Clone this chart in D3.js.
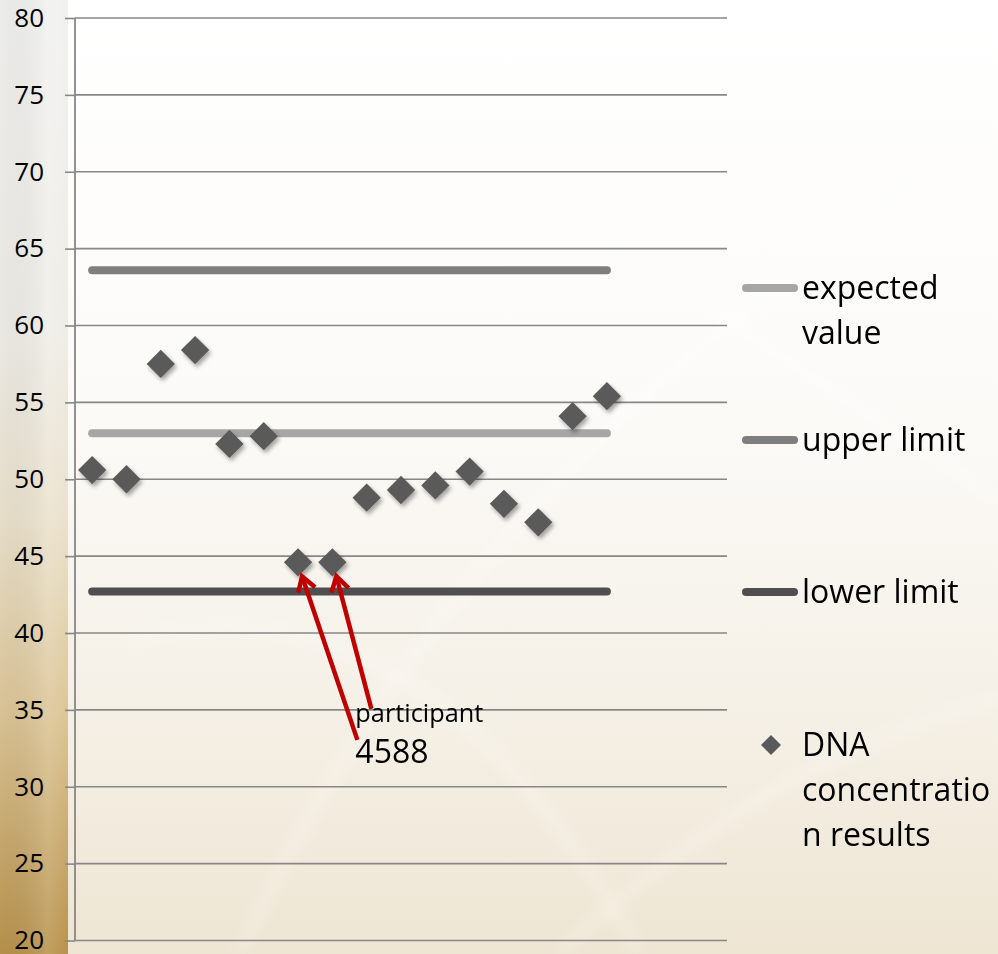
<!DOCTYPE html>
<html>
<head>
<meta charset="utf-8">
<script src="https://cdn.jsdelivr.net/npm/d3@7"></script>
<style>
  html, body { margin: 0; padding: 0; background: #fff; }
  svg { display: block; font-family: "Open Sans", "Noto Sans", sans-serif; }
</style>
</head>
<body>
<svg id="chart" width="998" height="954"></svg>
<script>
// Sample positions on the category axis (19 slots, 16 reported results)
const categories = [1, 2, 3, 4, 5, 6, 7, 8, 9, 10, 11, 12, 13, 14, 15, 16, 17, 18, 19];
const participants = [1, 2, 3, 4, 5, 6, 7, 8, 9, 10, 11, 12, 13, 14, 15, 16];
// DNA concentration results per participant
const dnaValues = [50.6, 50.0, 57.5, 58.4, 52.3, 52.8, 44.6, 44.6, 48.8, 49.3, 49.6, 50.5, 48.4, 47.2, 54.1, 55.4];
// Reference levels
const expectedValue = 53.0;
const upperLimit = 63.6;
const lowerLimit = 42.7;
// Value axis ticks
const yTicks = [20, 25, 30, 35, 40, 45, 50, 55, 60, 65, 70, 75, 80];
// Participant flagged by the annotation
const flaggedIndex = [6, 7];
const flaggedLabel = ["participant", "4588"];

const svg = d3.select("#chart");
const W = 998, H = 954;
const plot = { left: 75, right: 727, top: 18, bottom: 940.5 };

// ---- background ----
const defs = svg.append("defs");
const bg = defs.append("linearGradient").attr("id", "bgGrad").attr("x1", 0).attr("y1", 0).attr("x2", 0).attr("y2", 1);
bg.append("stop").attr("offset", "0%").attr("stop-color", "#ffffff");
bg.append("stop").attr("offset", "45%").attr("stop-color", "#fbfaf7");
bg.append("stop").attr("offset", "75%").attr("stop-color", "#f5f0e6");
bg.append("stop").attr("offset", "100%").attr("stop-color", "#eee5d3");

const strip = defs.append("linearGradient").attr("id", "stripGrad").attr("x1", 0).attr("y1", 0).attr("x2", 0).attr("y2", 1);
strip.append("stop").attr("offset", "0%").attr("stop-color", "#f1f1ef");
strip.append("stop").attr("offset", "35%").attr("stop-color", "#efede7");
strip.append("stop").attr("offset", "55%").attr("stop-color", "#eae1cc");
strip.append("stop").attr("offset", "75%").attr("stop-color", "#dcc596");
strip.append("stop").attr("offset", "100%").attr("stop-color", "#b8924c");

const stripShade = defs.append("linearGradient").attr("id", "stripShade").attr("x1", 0).attr("y1", 0).attr("x2", 1).attr("y2", 0);
stripShade.append("stop").attr("offset", "0%").attr("stop-color", "#000").attr("stop-opacity", 0.02);
stripShade.append("stop").attr("offset", "70%").attr("stop-color", "#fff").attr("stop-opacity", 0.12);
stripShade.append("stop").attr("offset", "100%").attr("stop-color", "#fff").attr("stop-opacity", 0.0);

const shadow = defs.append("filter").attr("id", "markShadow")
  .attr("x", "-50%").attr("y", "-50%").attr("width", "200%").attr("height", "200%");
shadow.append("feDropShadow").attr("dx", 2).attr("dy", 3).attr("stdDeviation", 2)
  .attr("flood-color", "#000").attr("flood-opacity", 0.35);

const soft = defs.append("filter").attr("id", "soft");
soft.append("feGaussianBlur").attr("stdDeviation", 6);

svg.append("rect").attr("width", W).attr("height", H).attr("fill", "url(#bgGrad)");

// faint pale arcs in the backdrop
const deco = svg.append("g").attr("filter", "url(#soft)").attr("fill", "none")
  .attr("stroke", "#ffffff").attr("stroke-opacity", 0.18).attr("stroke-width", 14);
deco.append("path").attr("d", "M 240 954 Q 420 560 760 300 T 998 60");
deco.append("path").attr("d", "M 130 640 Q 420 560 640 954");
deco.append("path").attr("d", "M 560 954 Q 760 760 998 700");
deco.append("path").attr("d", "M 600 240 Q 820 380 998 500");

svg.append("rect").attr("x", 0).attr("y", 0).attr("width", 68).attr("height", H).attr("fill", "url(#stripGrad)");
svg.append("rect").attr("x", 0).attr("y", 0).attr("width", 68).attr("height", H).attr("fill", "url(#stripShade)");

// ---- scales ----
const x = d3.scaleBand().domain(categories).range([plot.left, plot.right]);
const cx = d => x(d) + x.bandwidth() / 2;
const y = d3.scaleLinear().domain([20, 80]).range([plot.bottom, plot.top]);

// ---- gridlines + value axis ----
const yAxis = d3.axisLeft(y).tickValues(yTicks).tickSize(10).tickPadding(21).tickFormat(d3.format("d"));
const yAxisG = svg.append("g").attr("transform", `translate(${plot.left},0)`).call(yAxis);
yAxisG.select(".domain").remove();
yAxisG.selectAll(".tick line").attr("stroke", "#878787").attr("stroke-width", 1.6);
yAxisG.selectAll(".tick text").attr("fill", "#000").attr("font-size", 26)
  .attr("font-family", "'Open Sans', sans-serif").attr("dy", "0.32em");

svg.append("g").selectAll("line").data(yTicks).join("line")
  .attr("x1", plot.left).attr("x2", plot.right)
  .attr("y1", d => y(d)).attr("y2", d => y(d))
  .attr("stroke", "#878787").attr("stroke-width", 1.6);

svg.append("line")
  .attr("x1", plot.left).attr("x2", plot.left)
  .attr("y1", y(80)).attr("y2", y(20))
  .attr("stroke", "#878787").attr("stroke-width", 1.8);

// ---- reference lines ----
const refLines = [
  { name: "expected value", value: expectedValue, color: "#a6a6a6" },
  { name: "upper limit", value: upperLimit, color: "#7f7f7f" },
  { name: "lower limit", value: lowerLimit, color: "#4f4f4f" }
];
const first = participants[0], last = participants[participants.length - 1];
svg.append("g").selectAll("line").data(refLines).join("line")
  .attr("x1", cx(first)).attr("x2", cx(last))
  .attr("y1", d => y(d.value)).attr("y2", d => y(d.value))
  .attr("stroke", d => d.color).attr("stroke-width", 8).attr("stroke-linecap", "round");

// ---- DNA concentration markers ----
const diamond = d3.symbol().type(d3.symbolSquare).size(400);
svg.append("g").attr("filter", "url(#markShadow)").selectAll("path")
  .data(participants.map((p, i) => ({ p, v: dnaValues[i] })))
  .join("path")
  .attr("d", diamond)
  .attr("transform", d => `translate(${cx(d.p)},${y(d.v)}) rotate(45)`)
  .attr("fill", "#5a5a5a");

// ---- annotation arrows ----
const red = "#c00000";
const labelX = cx(participants[7]) + 23;
const labelY = y(35) + 14;
const tails = [
  { x: labelX + 2, y: labelY + 16 },
  { x: labelX + 16, y: labelY - 15 }
];
const ann = svg.append("g");
flaggedIndex.forEach((idx, k) => {
  const tipX = cx(participants[idx]) + 4;
  const tipY = y(dnaValues[idx]) + 14;
  const t = tails[k];
  ann.append("line").attr("x1", t.x).attr("y1", t.y).attr("x2", tipX).attr("y2", tipY)
    .attr("stroke", red).attr("stroke-width", 4.5).attr("stroke-linecap", "butt");
  const ang = Math.atan2(t.y - tipY, t.x - tipX);
  const arm = 17, spread = 0.55;
  const p1 = [tipX + arm * Math.cos(ang + spread), tipY + arm * Math.sin(ang + spread)];
  const p2 = [tipX + arm * Math.cos(ang - spread), tipY + arm * Math.sin(ang - spread)];
  ann.append("path").attr("d", `M${p1[0]},${p1[1]} L${tipX},${tipY} L${p2[0]},${p2[1]}`)
    .attr("fill", "none").attr("stroke", red).attr("stroke-width", 4.5)
    .attr("stroke-linejoin", "miter");
});
ann.append("text").attr("x", labelX).attr("y", labelY - 2).attr("font-size", 25)
  .attr("textLength", 128).attr("lengthAdjust", "spacingAndGlyphs").attr("fill", "#000")
  .text(flaggedLabel[0]);
ann.append("text").attr("x", labelX).attr("y", labelY + 39).attr("font-size", 32).attr("fill", "#000")
  .text(flaggedLabel[1]);

// ---- legend ----
const legend = svg.append("g").attr("font-size", 32).attr("fill", "#000");
const legendItems = [
  { type: "line", color: refLines[0].color, lines: ["expected", "value"], symY: 288 },
  { type: "line", color: refLines[1].color, lines: ["upper limit"], symY: 440 },
  { type: "line", color: refLines[2].color, lines: ["lower limit"], symY: 592 },
  { type: "mark", color: "#5a5a5a", lines: ["DNA", "concentratio", "n results"], symY: 745 }
];
legendItems.forEach(it => {
  if (it.type === "line") {
    legend.append("line").attr("x1", 746).attr("x2", 794).attr("y1", it.symY).attr("y2", it.symY)
      .attr("stroke", it.color).attr("stroke-width", 8).attr("stroke-linecap", "round");
  } else {
    legend.append("path").attr("d", d3.symbol().type(d3.symbolSquare).size(200))
      .attr("transform", `translate(771,${it.symY}) rotate(45)`).attr("fill", it.color);
  }
  it.lines.forEach((s, i) => {
    legend.append("text").attr("x", 802).attr("y", it.symY + 11 + i * 45).text(s);
  });
});
</script>
</body>
</html>
